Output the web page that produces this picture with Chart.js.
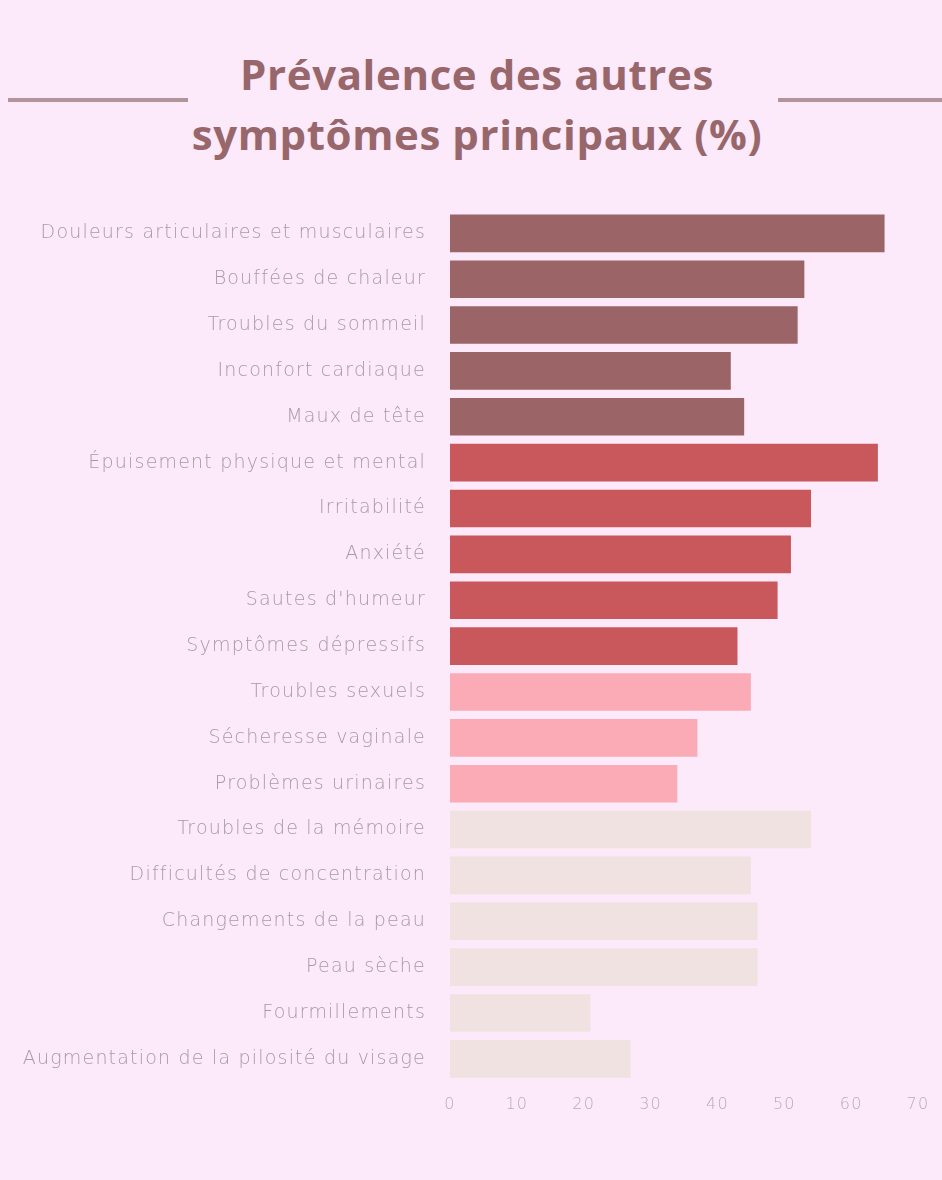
<!DOCTYPE html>
<html>
<head>
<meta charset="utf-8">
<script src="https://cdn.jsdelivr.net/npm/chart.js@4"></script>
<style>
  html, body { margin: 0; padding: 0; background: #fce9f9; }
  body { width: 942px; height: 1180px; position: relative; overflow: hidden; font-family: "Open Sans", sans-serif; }
  .title { position: absolute; left: 6px; width: 942px; text-align: center; color: #98676c; font-weight: 700; font-size: 42px; line-height: 60px; letter-spacing: 0.6px; }
  .rule { position: absolute; height: 4px; background: #b0959b; top: 98px; }
  #wrap { position: absolute; left: 0; top: 183px; width: 942px; height: 947px; }
</style>
</head>
<body>
<div class="title" style="top:44px;">Prévalence des autres</div>
<div class="title" style="top:104px;">symptômes principaux (%)</div>
<div class="rule" style="left:8px; width:180px;"></div>
<div class="rule" style="left:778px; width:164px;"></div>
<div id="wrap"><canvas id="c"></canvas></div>
<script>
const categories = [
  "Douleurs articulaires et musculaires",
  "Bouffées de chaleur",
  "Troubles du sommeil",
  "Inconfort cardiaque",
  "Maux de tête",
  "Épuisement physique et mental",
  "Irritabilité",
  "Anxiété",
  "Sautes d'humeur",
  "Symptômes dépressifs",
  "Troubles sexuels",
  "Sécheresse vaginale",
  "Problèmes urinaires",
  "Troubles de la mémoire",
  "Difficultés de concentration",
  "Changements de la peau",
  "Peau sèche",
  "Fourmillements",
  "Augmentation de la pilosité du visage"
];
const values = [65, 53, 52, 42, 44, 64, 54, 51, 49, 43, 45, 37, 34, 54, 45, 46, 46, 21, 27];
const groups = [0,0,0,0,0, 1,1,1,1,1, 2,2,2, 3,3,3,3,3,3];
const groupColors = ["#9b6568", "#c9585c", "#fbabb6", "#efe2e0"];
const xTicks = [0, 10, 20, 30, 40, 50, 60, 70];

const barColors = groups.map(g => groupColors[g]);

const spacingPlugin = {
  id: "letterSpacing",
  beforeDraw(chart) { chart.ctx.letterSpacing = "1.2px"; }
};

new Chart(document.getElementById("c"), {
  type: "bar",
  data: {
    labels: categories,
    datasets: [{
      data: values,
      backgroundColor: barColors,
      borderWidth: 0,
      barPercentage: 0.82,
      categoryPercentage: 1.0
    }]
  },
  plugins: [spacingPlugin],
  options: {
    indexAxis: "y",
    responsive: true,
    maintainAspectRatio: false,
    animation: false,
    layout: { padding: { top: 5, right: 24, bottom: 11, left: 0 } },
    plugins: { legend: { display: false }, tooltip: { enabled: false } },
    scales: {
      x: {
        min: 0, max: 70,
        afterBuildTicks: s => { s.ticks = xTicks.map(v => ({ value: v })); },
        grid: { display: false },
        border: { display: false },
        ticks: { color: "#bba9bb", font: { family: "DejaVu Sans", size: 16, weight: 200 }, padding: 5 }
      },
      y: {
        grid: { display: false },
        border: { display: false },
        afterFit: s => { s.width = 450; },
        ticks: { color: "#a999a8", font: { family: "DejaVu Sans", size: 19, weight: 200 }, padding: 16, autoSkip: false }
      }
    }
  }
});
</script>
</body>
</html>
